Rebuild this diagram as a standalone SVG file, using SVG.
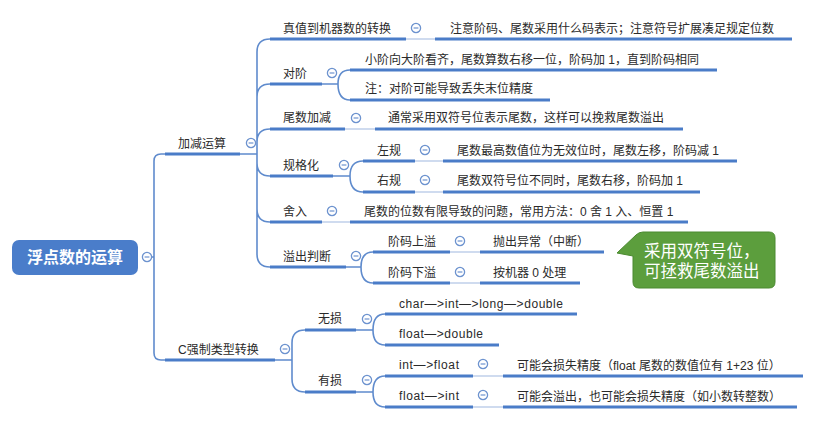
<svg xmlns="http://www.w3.org/2000/svg" xmlns:xlink="http://www.w3.org/1999/xlink" width="830" height="428" viewBox="0 0 830 428">
<style>
.t{font-family:"Liberation Sans","Noto Sans CJK SC",sans-serif;font-size:12px;fill:#2a2a2a}
.u{stroke:#4a7cc8;stroke-width:3;fill:none;stroke-linecap:butt}
.c{stroke:#5f8bcd;stroke-width:1.6;fill:none}
.l{stroke:#9fb8e0;stroke-width:1.2;fill:none}
.root{fill:#4a7dca}
.rt{font-family:"Liberation Sans","Noto Sans CJK SC",sans-serif;font-size:16px;font-weight:bold;fill:#ffffff}
.ct{font-family:"Liberation Sans","Noto Sans CJK SC",sans-serif;font-size:16.5px;fill:#ffffff}
</style>
<defs>
<g id="col"><circle r="4.6" fill="#ffffff" stroke="#6d93cf" stroke-width="1.3"/><line x1="-2.4" y1="0" x2="2.4" y2="0" stroke="#6d93cf" stroke-width="1.2"/></g>
</defs>
<rect width="830" height="428" fill="#ffffff"/>

<g id="connectors">
<path class="c" d="M151,257 H154 M154,257 V161 Q154,154 161,154 H165 M154,257 V353 Q154,360 161,360 H165"/>
<path class="c" d="M240,154 H257 M257,154 V52 Q257,39 270,39 M257,154 V97 Q257,84 270,84 M257,154 V142 Q257,129 270,129 M257,154 V163 Q257,176 270,176 M257,154 V209 Q257,222 270,222 M257,154 V254 Q257,267 270,267"/>
<path class="c" d="M322,84 H338 M338,84 Q338,70 350,70 M338,84 Q338,100 350,100"/>
<path class="c" d="M333,176 H350 M350,176 Q350,161 363,161 M350,176 Q350,192 363,192"/>
<path class="c" d="M346,267 H361 M361,267 Q361,252 373,252 M361,267 Q361,283 373,283"/>
<path class="c" d="M275,360 H292 M292,360 V343 Q292,330 305,330 M292,360 V379 Q292,392 305,392"/>
<path class="c" d="M356,330 H373 M373,330 Q373,314 385,314 M373,330 Q373,345 385,345"/>
<path class="c" d="M356,392 H373 M373,392 Q373,376 385,376 M373,392 Q373,407 385,407"/>
<path class="l" d="M406,39 H435 M345,129 H375 M322,222 H350 M415,161 H443 M415,192 H443 M450,252 H480 M450,283 H480 M473,376 H503 M473,407 H503"/>
</g>

<g id="root">
<rect class="root" x="12" y="240" width="126" height="35" rx="7"/>
<text class="rt" x="75" y="263" text-anchor="middle">浮点数的运算</text>
<use xlink:href="#col" x="147" y="257"/>
</g>

<g id="n-jiajian">
<path class="u" d="M165,154 H240"/>
<text class="t" x="178" y="147.5">加减运算</text>
<use xlink:href="#col" x="251" y="143"/>
</g>
<g id="n-cast">
<path class="u" d="M165,360 H275"/>
<text class="t" x="178" y="353.5">C强制类型转换</text>
<use xlink:href="#col" x="285" y="349"/>
</g>

<g id="n-zhenzhi">
<path class="u" d="M270,39 H406"/>
<text class="t" x="283" y="32.5">真值到机器数的转换</text>
<use xlink:href="#col" x="416" y="28"/>
</g>
<g id="n-zhenzhi-1">
<path class="u" d="M435,39 H792"/>
<text class="t" x="450" y="32.5">注意阶码、尾数采用什么码表示；注意符号扩展凑足规定位数</text>
</g>

<g id="n-duijie">
<path class="u" d="M270,84 H322"/>
<text class="t" x="283" y="77.5">对阶</text>
<use xlink:href="#col" x="332" y="73"/>
</g>
<g id="n-duijie-1">
<path class="u" d="M350,70 H717"/>
<text class="t" x="365" y="63.5">小阶向大阶看齐，尾数算数右移一位，阶码加 1，直到阶码相同</text>
</g>
<g id="n-duijie-2">
<path class="u" d="M350,100 H550"/>
<text class="t" x="365" y="92.5">注：对阶可能导致丢失末位精度</text>
</g>

<g id="n-weishu">
<path class="u" d="M270,129 H345"/>
<text class="t" x="283" y="122">尾数加减</text>
<use xlink:href="#col" x="356" y="118"/>
</g>
<g id="n-weishu-1">
<path class="u" d="M375,129 H683"/>
<text class="t" x="388" y="121.5">通常采用双符号位表示尾数，这样可以挽救尾数溢出</text>
</g>

<g id="n-guigehua">
<path class="u" d="M270,176 H333"/>
<text class="t" x="283" y="169.5">规格化</text>
<use xlink:href="#col" x="344" y="165"/>
</g>
<g id="n-zuogui">
<path class="u" d="M363,161 H415"/>
<text class="t" x="377" y="154.5">左规</text>
<use xlink:href="#col" x="425" y="150"/>
</g>
<g id="n-zuogui-1">
<path class="u" d="M443,161 H737"/>
<text class="t" x="457" y="154.5">尾数最高数值位为无效位时，尾数左移，阶码减 1</text>
</g>
<g id="n-yougui">
<path class="u" d="M363,192 H415"/>
<text class="t" x="377" y="184.5">右规</text>
<use xlink:href="#col" x="425" y="180"/>
</g>
<g id="n-yougui-1">
<path class="u" d="M443,192 H700"/>
<text class="t" x="457" y="184.5">尾数双符号位不同时，尾数右移，阶码加 1</text>
</g>

<g id="n-sheru">
<path class="u" d="M270,222 H322"/>
<text class="t" x="283" y="215.5">舍入</text>
<use xlink:href="#col" x="332" y="211"/>
</g>
<g id="n-sheru-1">
<path class="u" d="M350,222 H688"/>
<text class="t" x="364" y="215.5">尾数的位数有限导致的问题，常用方法：0 舍 1 入、恒置 1</text>
</g>

<g id="n-yichu">
<path class="u" d="M270,267 H346"/>
<text class="t" x="283" y="260.5">溢出判断</text>
<use xlink:href="#col" x="356" y="256"/>
</g>
<g id="n-shangyi">
<path class="u" d="M373,252 H450"/>
<text class="t" x="388" y="245.5">阶码上溢</text>
<use xlink:href="#col" x="460" y="241"/>
</g>
<g id="n-shangyi-1">
<path class="u" d="M480,252 H604"/>
<text class="t" x="493" y="245.5">抛出异常（中断）</text>
</g>
<g id="n-xiayi">
<path class="u" d="M373,283 H450"/>
<text class="t" x="388" y="276.5">阶码下溢</text>
<use xlink:href="#col" x="460" y="272"/>
</g>
<g id="n-xiayi-1">
<path class="u" d="M480,283 H580"/>
<text class="t" x="493" y="276.5">按机器 0 处理</text>
</g>

<g id="callout">
<path d="M617,253 L636,235 Q639,232 643,232 H769 Q775,232 775,238 V282 Q775,288 769,288 H639 Q633,288 633,282 V256 Z" fill="#5c9e3d" stroke="#4b8a30" stroke-width="1"/>
<text class="ct" x="644" y="257">采用双符号位，</text>
<text class="ct" x="644" y="277">可拯救尾数溢出</text>
</g>

<g id="n-wusun">
<path class="u" d="M305,330 H356"/>
<text class="t" x="318" y="322.5">无损</text>
<use xlink:href="#col" x="367" y="319"/>
</g>
<g id="n-wusun-1">
<path class="u" d="M385,314 H577"/>
<text class="t" x="399" y="307.5" textLength="164" lengthAdjust="spacing">char—&gt;int—&gt;long—&gt;double</text>
</g>
<g id="n-wusun-2">
<path class="u" d="M385,345 H499"/>
<text class="t" x="399" y="337.5" textLength="84" lengthAdjust="spacing">float—&gt;double</text>
</g>

<g id="n-yousun">
<path class="u" d="M305,392 H356"/>
<text class="t" x="318" y="384.5">有损</text>
<use xlink:href="#col" x="367" y="380"/>
</g>
<g id="n-i2f">
<path class="u" d="M385,376 H473"/>
<text class="t" x="399" y="368.5" textLength="60" lengthAdjust="spacing">int—&gt;float</text>
<use xlink:href="#col" x="483" y="364"/>
</g>
<g id="n-i2f-1">
<path class="u" d="M503,376 H803"/>
<text class="t" x="517" y="369.5">可能会损失精度（float 尾数的数值位有 1+23 位）</text>
</g>
<g id="n-f2i">
<path class="u" d="M385,407 H473"/>
<text class="t" x="399" y="399.5" textLength="60" lengthAdjust="spacing">float—&gt;int</text>
<use xlink:href="#col" x="483" y="395"/>
</g>
<g id="n-f2i-1">
<path class="u" d="M503,407 H797"/>
<text class="t" x="517" y="400.5">可能会溢出，也可能会损失精度（如小数转整数）</text>
</g>
</svg>
